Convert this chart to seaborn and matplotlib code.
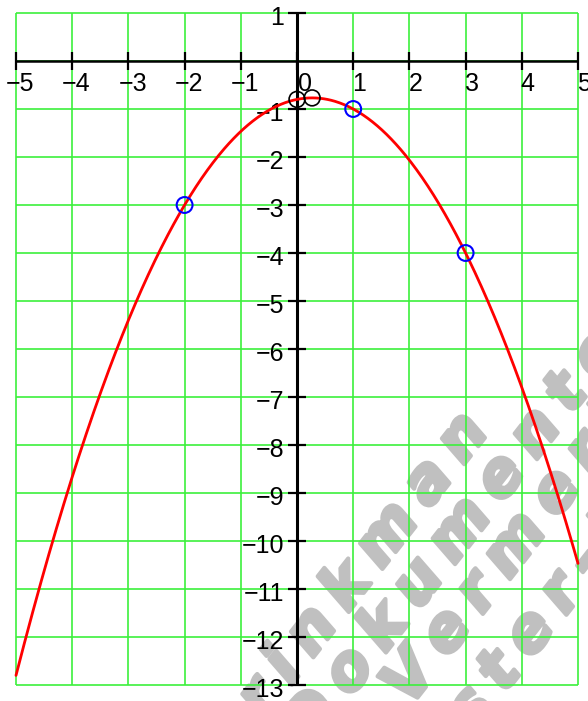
import numpy as np
import pandas as pd
import matplotlib
matplotlib.use("Agg")
import matplotlib.pyplot as plt
import seaborn as sns
from matplotlib import patheffects
from matplotlib.font_manager import FontProperties, findfont, get_font

# ---- data ----
quad_coeffs = [-13/30, 7/30, -0.8]          # y = a x^2 + b x + c (through the marked points)
x_range = [-5, 5]
y_range = [-13, 1]
blue_x = [-2, 1, 3]
blue_y = [-3, -1, -4]
black_x = [0, 7/26]
black_y = [-0.8, -0.7686]
x_ticks = [-5, -4, -3, -2, -1, 0, 1, 2, 3, 4, 5]
y_ticks = [1, -1, -2, -3, -4, -5, -6, -7, -8, -9, -10, -11, -12, -13]
watermark_lines = ["Brinkman", "Dokumente", "Vermerk", "Muster-Dokument"]

W, H, DPI = 588, 701, 100
sns.set_style("white")
plt.rcParams['font.family'] = ['Liberation Sans', 'DejaVu Sans']

fig = plt.figure(figsize=(W / DPI, H / DPI), dpi=DPI)
ax = fig.add_axes([0, 0, 1, 1])
ax.set_axis_off()

# pixel mapping: x=-5 -> 16px, x=5 -> 578px ; y=1 -> 13px, y=-13 -> 685px
ppx = (578 - 16) / 10.0
ppy = (685 - 13) / 14.0
XLIM = (-5 - 16 / ppx, 5 + (W - 578) / ppx)
YLIM = (-13 - (H - 685) / ppy, 1 + 13 / ppy)

# ---- watermark (under everything) ----
wm_size = 44
fp = FontProperties(family='DejaVu Sans', weight='bold', style='italic', size=wm_size)
ft = get_font(findfont(fp))
ft.set_size(wm_size, DPI)
angle = 52.0
th = np.radians(angle)
d = np.array([np.cos(th), -np.sin(th)])
up = np.array([-np.sin(th), -np.cos(th)])
em = wm_size * DPI / 72.0
track = 14.0
# (index of reference char, its centre in pixels)
refs = [(7, (463, 438)), (4, (460, 530)), (3, (515, 545)), (3, (500, 672))]
pe = [patheffects.withStroke(linewidth=3.0, foreground='#c0c0c0')]
for line, (k, cen) in zip(watermark_lines, refs):
    adv = [ft.load_char(ord(ch)).linearHoriAdvance / 65536.0 + track for ch in line]
    cum = np.concatenate([[0.0], np.cumsum(adv)[:-1]])
    anchor = np.array(cen) - (cum[k] + (adv[k] - track) / 2) * d - 0.28 * em * up
    for ch, pos in zip(line, cum):
        p = anchor + pos * d
        ax.text(p[0] / W, 1 - p[1] / H, ch, transform=ax.transAxes, rotation=angle,
                rotation_mode='anchor', ha='left', va='baseline', fontproperties=fp,
                color='#c0c0c0', zorder=0.2, clip_on=False, path_effects=pe)

# ---- grid ----
grid_col = '#3cf03c'
ax.vlines(np.arange(x_range[0], x_range[1] + 1), y_range[0], y_range[1],
          colors=grid_col, lw=1.2, zorder=1)
ax.hlines(np.arange(y_range[0], y_range[1] + 1), x_range[0], x_range[1],
          colors=grid_col, lw=1.2, zorder=1)

# ---- axes lines with crossing ticks ----
ax.plot(x_range, [0, 0], color='black', lw=1.8, zorder=3, solid_capstyle='butt')
ax.plot([0, 0], y_range, color='black', lw=2.2, zorder=3, solid_capstyle='butt')
ax.plot(x_ticks, [0] * len(x_ticks), linestyle='none', marker='|', markersize=13,
        markeredgewidth=1.6, color='black', zorder=3)
ax.plot([0] * len(y_ticks), y_ticks, linestyle='none', marker='_', markersize=13,
        markeredgewidth=1.6, color='black', zorder=3)

# ---- tick labels ----
fs = 18
pt = 72.0 / DPI
for xv in x_ticks:
    lab = str(xv).replace('-', '\u2212')
    dx = -10 if xv < 0 else (1 if xv == 0 else -1)
    ax.annotate(lab, (xv, 0), xytext=(dx * pt, -30 * pt), textcoords='offset points',
                ha='left', va='baseline', fontsize=fs, color='black', zorder=4)
for yv in y_ticks:
    lab = str(yv).replace('-', '\u2212')
    ax.annotate(lab, (0, yv), xytext=(-13 * pt, -12 * pt), textcoords='offset points',
                ha='right', va='baseline', fontsize=fs, color='black', zorder=4)

# ---- curve ----
a, b, c = quad_coeffs
xs = np.linspace(x_range[0], x_range[1], 600)
df = pd.DataFrame({'x': xs, 'y': a * xs ** 2 + b * xs + c})
sns.lineplot(data=df, x='x', y='y', color='red', lw=2.0, ax=ax, zorder=5,
             estimator=None, sort=False)

# ---- points ----
sns.scatterplot(x=blue_x, y=blue_y, marker='o', s=130, facecolor='none',
                edgecolor='blue', linewidth=1.5, ax=ax, zorder=6)
sns.scatterplot(x=black_x, y=black_y, marker='o', s=130, facecolor='none',
                edgecolor='black', linewidth=1.2, ax=ax, zorder=6)

ax.set_xlim(*XLIM)
ax.set_ylim(*YLIM)
ax.set_axis_off()
fig.savefig('out.png', dpi=DPI)
